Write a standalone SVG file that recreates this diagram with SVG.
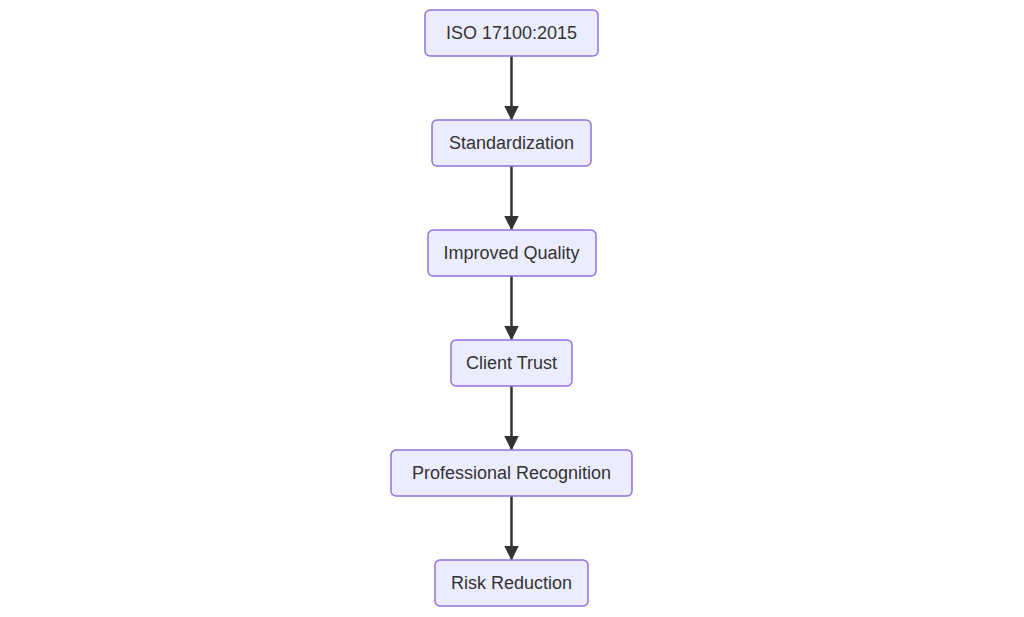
<svg xmlns="http://www.w3.org/2000/svg" width="1024" height="617" viewBox="0 0 1024 617">
<style>
.n rect{fill:#ECECFF;stroke:#9370DB;stroke-width:1.5}
.n text{font-family:"Liberation Sans",Arial,sans-serif;font-size:18px;fill:#333;text-anchor:middle;dominant-baseline:central}
.e line{stroke:#333;stroke-width:2.5}
</style>
<defs><marker id="a" viewBox="0 0 10 10" refX="9" refY="5" markerWidth="6" markerHeight="6" orient="auto" markerUnits="strokeWidth"><path d="M0,0L10,5L0,10z" fill="#333"/></marker></defs>
<rect width="1024" height="617" fill="#fff"/>
<g class="e">
<line x1="511.5" y1="56" x2="511.5" y2="119" marker-end="url(#a)"/>
<line x1="511.5" y1="166" x2="511.5" y2="229" marker-end="url(#a)"/>
<line x1="511.5" y1="276" x2="511.5" y2="339" marker-end="url(#a)"/>
<line x1="511.5" y1="386" x2="511.5" y2="449" marker-end="url(#a)"/>
<line x1="511.5" y1="496" x2="511.5" y2="559" marker-end="url(#a)"/>
</g>
<g id="n1" class="n"><rect x="425" y="10" width="173" height="46" rx="5"/><text x="511.5" y="33">ISO 17100:2015</text></g>
<g id="n2" class="n"><rect x="432" y="120" width="159" height="46" rx="5"/><text x="511.5" y="143">Standardization</text></g>
<g id="n3" class="n"><rect x="428" y="230" width="168" height="46" rx="5"/><text x="511.5" y="253">Improved Quality</text></g>
<g id="n4" class="n"><rect x="451" y="340" width="121" height="46" rx="5"/><text x="511.5" y="363">Client Trust</text></g>
<g id="n5" class="n"><rect x="391" y="450" width="241" height="46" rx="5"/><text x="511.5" y="473">Professional Recognition</text></g>
<g id="n6" class="n"><rect x="435" y="560" width="153" height="46" rx="5"/><text x="511.5" y="583">Risk Reduction</text></g>
</svg>
